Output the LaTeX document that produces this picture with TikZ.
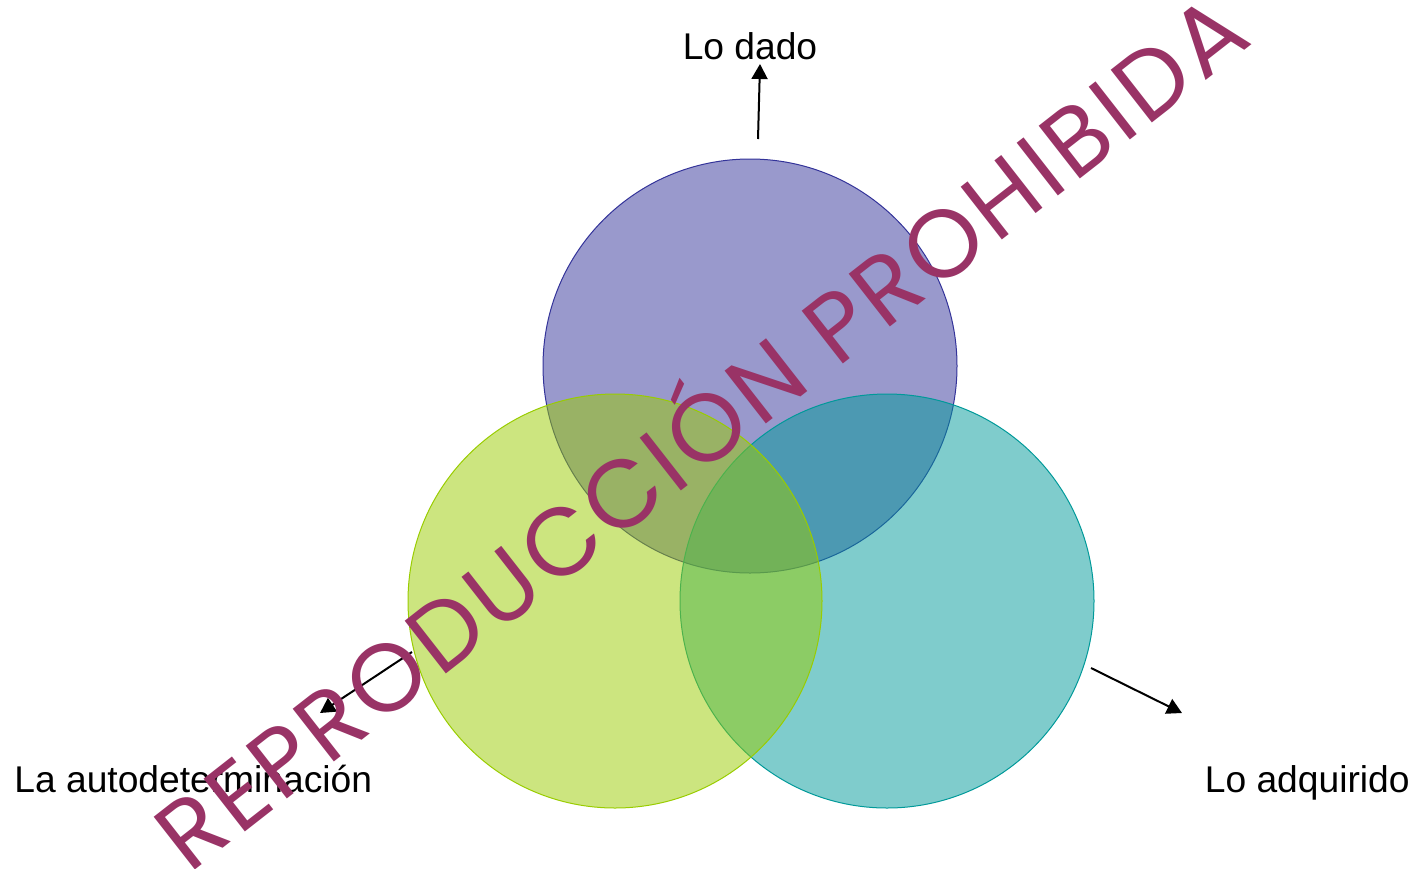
\documentclass[tikz,border=0pt]{standalone}
\usepackage{fontspec}
\setmainfont{Liberation Sans}
\newfontfamily\marcafont[LetterSpace=4.5]{Poppins}
\usepackage{xcolor}
\usetikzlibrary{arrows.meta}
\definecolor{dadoazul}{HTML}{333399}
\definecolor{autoverde}{HTML}{99CC00}
\definecolor{adqteal}{HTML}{009999}
\definecolor{marcarojo}{HTML}{993366}
\tikzset{conj/.style={circle, minimum size=207pt, inner sep=0pt, fill opacity=0.5, draw opacity=1, line width=0.5pt},
	flecha/.style={-{Triangle[width=8pt,length=7.5pt]}, line width=1pt},
	etiqueta/.style={font=\fontsize{18.6}{22}\selectfont, inner sep=0pt}}

\begin{document}
\begin{tikzpicture}[x=0.5pt,y=-0.5pt]
					\useasboundingbox (0,0) rectangle (1418,868);
					\node[conj, draw=dadoazul, fill=dadoazul] (dado) at (750,366) {};
					\node[conj, draw=adqteal, fill=adqteal] (adquirido) at (887,601) {};
					\node[conj, draw=autoverde, fill=autoverde] (auto) at (615,601) {};
					\node[etiqueta, anchor=base] (tdado) at (750,59) {Lo dado};
					\node[etiqueta, anchor=base west] (tauto) at (14,792) {La autodeterminación};
					\node[etiqueta, anchor=base east] (tadq) at (1410,792) {Lo adquirido};
					\coordinate (dadoini) at (758,139); \coordinate (dadofin) at (760,64);
					\coordinate (autoini) at (412,652); \coordinate (autofin) at (320,713);
					\coordinate (adqini) at (1091,668); \coordinate (adqfin) at (1182,713);
					\draw[flecha] (dadoini) -- (dadofin);
					\draw[flecha] (autoini) -- (autofin);
					\draw[flecha] (adqini) -- (adqfin);
					\node[rotate=38, text=marcarojo, font=\marcafont\fontsize{48}{56}\selectfont, inner sep=0pt, anchor=base] (marca) at (722,459) {REPRODUCCIÓN PROHIBIDA};
				\end{tikzpicture}
\end{document}
